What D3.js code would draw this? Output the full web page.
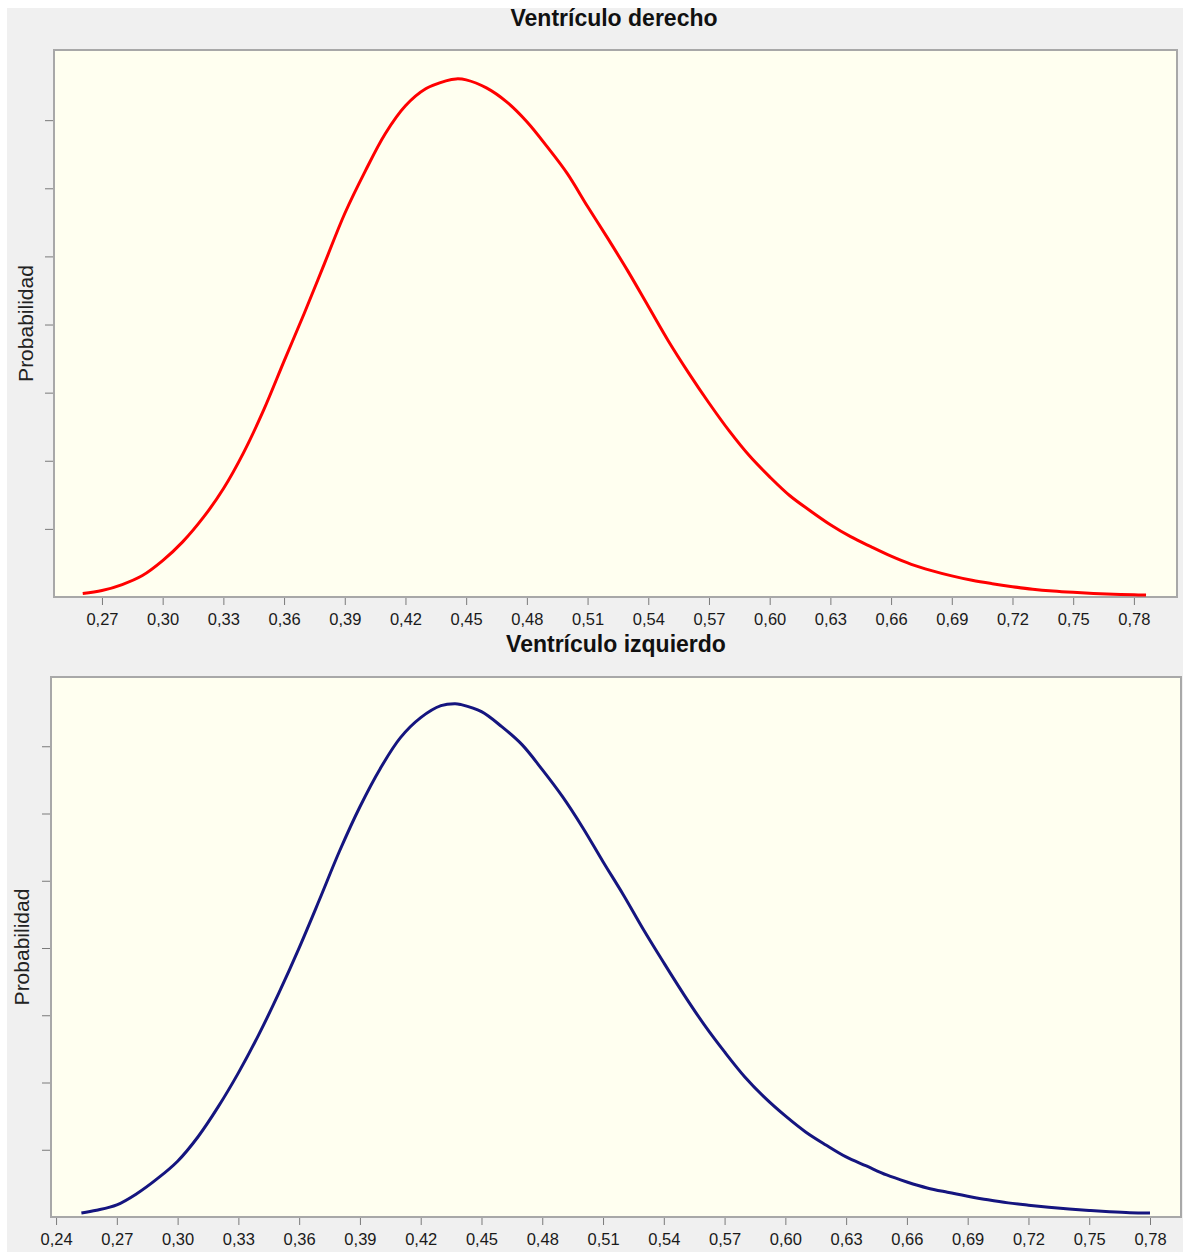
<!DOCTYPE html>
<html>
<head>
<meta charset="utf-8">
<script src="https://cdn.jsdelivr.net/npm/d3@7"></script>
<style>
  html, body { margin: 0; padding: 0; background: #ffffff; }
  svg { display: block; }
  text { font-family: "Liberation Sans", Arial, sans-serif; }
</style>
</head>
<body>
<svg id="chart" width="1183" height="1252"></svg>
<script>
// ---- Data ----
const titles = ["Ventrículo derecho", "Ventrículo izquierdo"];
const yLabel = "Probabilidad";

// Top chart (Ventrículo derecho)
const rightX = [0.2605, 0.27, 0.28, 0.29, 0.30, 0.31, 0.32, 0.33, 0.34, 0.35, 0.36, 0.37, 0.38, 0.39, 0.40,
  0.41, 0.42, 0.43, 0.44, 0.445, 0.45, 0.46, 0.47, 0.48, 0.49, 0.50, 0.51, 0.52, 0.53, 0.54, 0.55,
  0.56, 0.57, 0.58, 0.59, 0.60, 0.61, 0.62, 0.63, 0.64, 0.65, 0.66, 0.67, 0.68, 0.69, 0.70,
  0.71, 0.72, 0.73, 0.74, 0.75, 0.76, 0.77, 0.78, 0.786];
const rightY = [0.051, 0.095, 0.183, 0.315, 0.534, 0.813, 1.164, 1.589, 2.120, 2.750, 3.463, 4.166, 4.898, 5.630, 6.245,
  6.801, 7.211, 7.460, 7.577, 7.606, 7.592, 7.474, 7.269, 6.977, 6.611, 6.215, 5.732, 5.264, 4.780, 4.268, 3.755,
  3.287, 2.848, 2.438, 2.072, 1.764, 1.486, 1.266, 1.061, 0.886, 0.739, 0.600, 0.480, 0.388, 0.310, 0.245,
  0.195, 0.152, 0.115, 0.088, 0.068, 0.052, 0.040, 0.032, 0.030];

// Bottom chart (Ventrículo izquierdo)
const leftX = [0.2525, 0.26, 0.27, 0.28, 0.29, 0.30, 0.31, 0.32, 0.33, 0.34, 0.35, 0.36, 0.37, 0.38, 0.39, 0.40,
  0.41, 0.42, 0.43, 0.437, 0.44, 0.45, 0.46, 0.47, 0.48, 0.49, 0.50, 0.51, 0.52, 0.53, 0.54, 0.55,
  0.56, 0.57, 0.58, 0.59, 0.60, 0.61, 0.62, 0.63, 0.64, 0.65, 0.66, 0.67, 0.68, 0.69, 0.70,
  0.71, 0.72, 0.73, 0.74, 0.75, 0.76, 0.77, 0.78];
const leftY = [0.060, 0.100, 0.180, 0.350, 0.570, 0.830, 1.190, 1.637, 2.143, 2.708, 3.333, 4.003, 4.717, 5.446, 6.101, 6.667,
  7.128, 7.426, 7.604, 7.634, 7.619, 7.515, 7.292, 7.024, 6.652, 6.250, 5.789, 5.283, 4.792, 4.271, 3.780, 3.304,
  2.857, 2.455, 2.083, 1.771, 1.503, 1.265, 1.071, 0.893, 0.759, 0.625, 0.521, 0.432, 0.368, 0.310, 0.256,
  0.210, 0.176, 0.146, 0.119, 0.097, 0.078, 0.064, 0.060];

const topTicks = [0.27, 0.30, 0.33, 0.36, 0.39, 0.42, 0.45, 0.48, 0.51, 0.54, 0.57, 0.60, 0.63, 0.66, 0.69, 0.72, 0.75, 0.78];
const bottomTicks = [0.24, 0.27, 0.30, 0.33, 0.36, 0.39, 0.42, 0.45, 0.48, 0.51, 0.54, 0.57, 0.60, 0.63, 0.66, 0.69, 0.72, 0.75, 0.78];
const yTicks = [1, 2, 3, 4, 5, 6, 7];

// ---- Drawing ----
const svg = d3.select("#chart");
svg.append("rect").attr("x", 7).attr("y", 8).attr("width", 1176).attr("height", 1244).attr("fill", "#f0f0f0");

const fmt = d => d3.format(".2f")(d).replace(".", ",");

function panel(cfg) {
  const x = d3.scaleLinear().domain(cfg.xDomain).range([cfg.left, cfg.right]);
  const y = d3.scaleLinear().domain([0, 8.03]).range([cfg.bottom, cfg.top]);

  svg.append("rect")
    .attr("x", cfg.left).attr("y", cfg.top)
    .attr("width", cfg.right - cfg.left).attr("height", cfg.bottom - cfg.top)
    .attr("fill", "#fffff0").attr("stroke", "#a8a8a8").attr("stroke-width", 2);

  // x axis
  const xa = svg.append("g").attr("transform", `translate(0,${cfg.bottom})`)
    .call(d3.axisBottom(x).tickValues(cfg.ticks).tickFormat(fmt).tickSize(7).tickPadding(9));
  xa.select(".domain").remove();
  xa.selectAll(".tick line").attr("stroke", "#7a7a7a").attr("transform", "translate(0,1)");
  xa.selectAll(".tick text").attr("font-size", "16.5px").attr("fill", "#1a1a1a")
    .attr("font-family", "'Liberation Sans', Arial, sans-serif");

  // y axis (no labels)
  const ya = svg.append("g").attr("transform", `translate(${cfg.left - 1},0)`)
    .call(d3.axisLeft(y).tickValues(yTicks).tickFormat("").tickSize(8));
  ya.select(".domain").remove();
  ya.selectAll(".tick line").attr("stroke", "#7a7a7a");

  // curve
  const line = d3.line().x((d, i) => x(cfg.xs[i])).y(d => y(d)).curve(d3.curveCatmullRom.alpha(0.5));
  svg.append("path").datum(cfg.ys)
    .attr("d", line).attr("fill", "none")
    .attr("stroke", cfg.color).attr("stroke-width", 3).attr("stroke-linejoin", "round");

  // title
  svg.append("text").attr("x", cfg.titleX).attr("y", cfg.titleY)
    .attr("text-anchor", "middle").attr("font-size", "23px").attr("font-weight", "bold")
    .attr("fill", "#111").text(cfg.title);

  // y label
  svg.append("text")
    .attr("transform", `translate(${cfg.labelX},${(cfg.top + cfg.bottom) / 2}) rotate(-90)`)
    .attr("text-anchor", "middle").attr("font-size", "21px").attr("fill", "#222")
    .text(yLabel);
}

panel({
  left: 54, right: 1177, top: 50, bottom: 597,
  xDomain: [0.2463, 0.8013], ticks: topTicks,
  xs: rightX, ys: rightY, color: "#ff0000",
  title: titles[0], titleX: 614, titleY: 26, labelX: 33
});

panel({
  left: 51, right: 1181, top: 677, bottom: 1217,
  xDomain: [0.2375, 0.7953], ticks: bottomTicks,
  xs: leftX, ys: leftY, color: "#15157f",
  title: titles[1], titleX: 616, titleY: 652, labelX: 29
});
</script>
</body>
</html>
